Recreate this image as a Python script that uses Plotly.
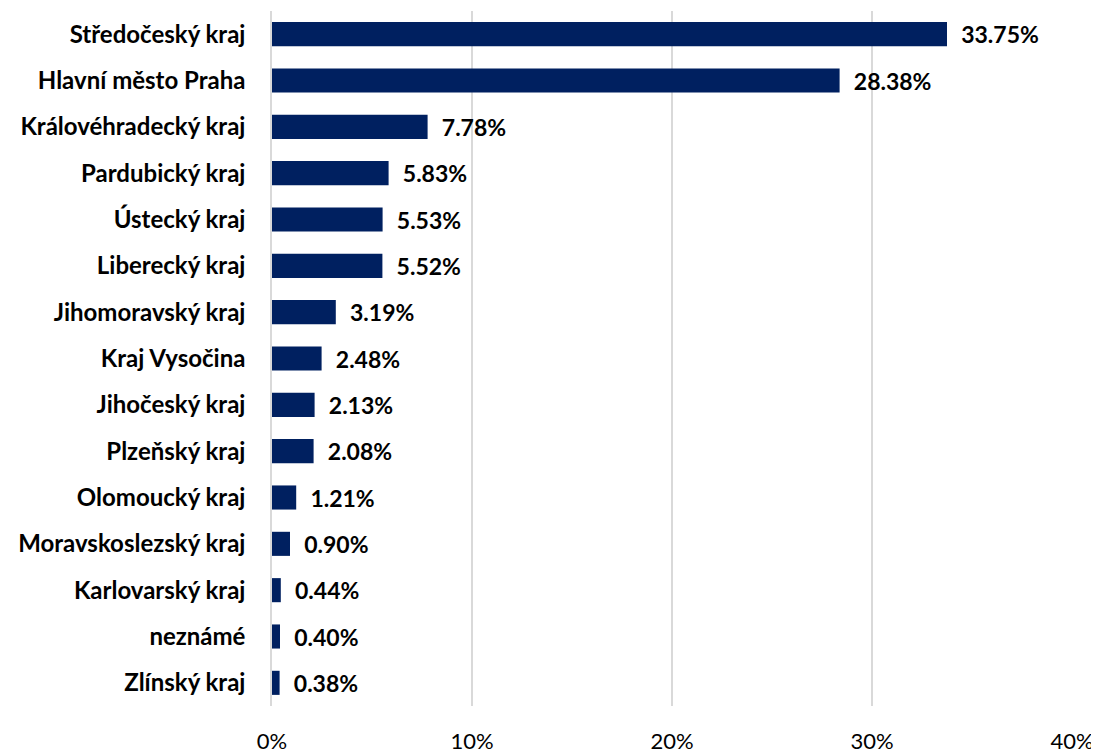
import plotly.graph_objects as go

regions = [
    "Středočeský kraj", "Hlavní město Praha", "Královéhradecký kraj",
    "Pardubický kraj", "Ústecký kraj", "Liberecký kraj", "Jihomoravský kraj",
    "Kraj Vysočina", "Jihočeský kraj", "Plzeňský kraj", "Olomoucký kraj",
    "Moravskoslezský kraj", "Karlovarský kraj", "neznámé", "Zlínský kraj",
]
shares = [33.75, 28.38, 7.78, 5.83, 5.53, 5.52, 3.19, 2.48, 2.13, 2.08,
          1.21, 0.90, 0.44, 0.40, 0.38]
tick_vals = [0, 10, 20, 30, 40]
tick_text = ["0%", "10%", "20%", "30%", "40%"]

NAVY = "#002060"
FONT = "Lato"

fig = go.Figure(go.Bar(
    x=shares,
    y=regions,
    orientation="h",
    marker=dict(color=NAVY, line=dict(width=0)),
    texttemplate="  %{x:.2f}%",
    textposition="outside",
    constraintext="none",
    cliponaxis=False,
    textfont=dict(family=FONT, size=23, color="black", weight="bold"),
))

fig.update_layout(
    width=1099, height=753,
    margin=dict(l=264, r=35, t=3, b=55),
    paper_bgcolor="white", plot_bgcolor="white",
    bargap=0.48,
    showlegend=False,
    font=dict(family=FONT, size=22, color="black"),
)
fig.update_xaxes(
    range=[0, 40], tickvals=tick_vals, ticktext=tick_text,
    showgrid=True, gridcolor="#d9d9d9", gridwidth=1.5,
    zeroline=False, showline=False,
    tickfont=dict(family=FONT, size=22, color="black"),
    ticklabelstandoff=20,
)
fig.update_yaxes(
    autorange="reversed",
    showline=True, linecolor="#d9d9d9", linewidth=1.5,
    showgrid=False,
    tickfont=dict(family=FONT, size=24, color="black", weight="bold"),
    ticklabelstandoff=20,
)

fig.write_html("out.html")
